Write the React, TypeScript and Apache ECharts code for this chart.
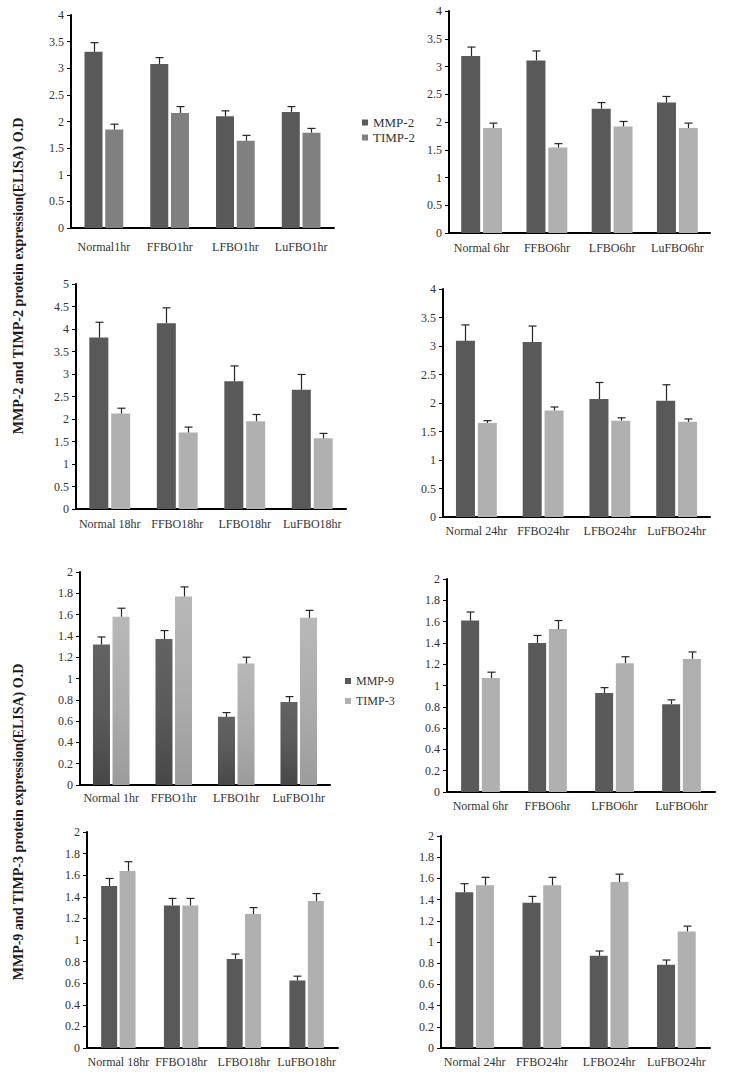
import React, { useEffect, useRef } from "react";
import * as echarts from "echarts";

// ---------- data ----------
const cats1hrA = ["Normal1hr", "FFBO1hr", "LFBO1hr", "LuFBO1hr"];
const cats6hr = ["Normal 6hr", "FFBO6hr", "LFBO6hr", "LuFBO6hr"];
const cats18hr = ["Normal 18hr", "FFBO18hr", "LFBO18hr", "LuFBO18hr"];
const cats24hr = ["Normal 24hr", "FFBO24hr", "LFBO24hr", "LuFBO24hr"];
const cats1hrB = ["Normal 1hr", "FFBO1hr", "LFBO1hr", "LuFBO1hr"];

// MMP-2 / TIMP-2
const mmp2_1hr = [3.31, 3.08, 2.1, 2.18];
const mmp2_1hrErr = [0.17, 0.12, 0.1, 0.1];
const timp2_1hr = [1.85, 2.16, 1.64, 1.79];
const timp2_1hrErr = [0.1, 0.12, 0.1, 0.08];

const mmp2_6hr = [3.19, 3.11, 2.24, 2.35];
const mmp2_6hrErr = [0.16, 0.17, 0.11, 0.11];
const timp2_6hr = [1.89, 1.54, 1.92, 1.89];
const timp2_6hrErr = [0.09, 0.07, 0.09, 0.09];

const mmp2_18hr = [3.81, 4.13, 2.84, 2.65];
const mmp2_18hrErr = [0.34, 0.34, 0.34, 0.34];
const timp2_18hr = [2.12, 1.7, 1.95, 1.57];
const timp2_18hrErr = [0.12, 0.12, 0.15, 0.11];

const mmp2_24hr = [3.09, 3.07, 2.07, 2.04];
const mmp2_24hrErr = [0.28, 0.28, 0.29, 0.28];
const timp2_24hr = [1.65, 1.87, 1.69, 1.67];
const timp2_24hrErr = [0.04, 0.06, 0.05, 0.05];

// MMP-9 / TIMP-3
const mmp9_1hr = [1.32, 1.37, 0.64, 0.78];
const mmp9_1hrErr = [0.07, 0.08, 0.04, 0.05];
const timp3_1hr = [1.58, 1.77, 1.14, 1.57];
const timp3_1hrErr = [0.08, 0.09, 0.06, 0.07];

const mmp9_6hr = [1.61, 1.4, 0.93, 0.825];
const mmp9_6hrErr = [0.08, 0.07, 0.05, 0.04];
const timp3_6hr = [1.07, 1.53, 1.21, 1.25];
const timp3_6hrErr = [0.055, 0.08, 0.06, 0.065];

const mmp9_18hr = [1.5, 1.32, 0.825, 0.625];
const mmp9_18hrErr = [0.07, 0.065, 0.045, 0.04];
const timp3_18hr = [1.64, 1.32, 1.24, 1.36];
const timp3_18hrErr = [0.085, 0.065, 0.06, 0.07];

const mmp9_24hr = [1.47, 1.37, 0.87, 0.785];
const mmp9_24hrErr = [0.08, 0.06, 0.045, 0.045];
const timp3_24hr = [1.535, 1.535, 1.565, 1.1];
const timp3_24hrErr = [0.075, 0.075, 0.075, 0.05];

const yTitleTop = "MMP-2 and TIMP-2 protein expression(ELISA) O.D";
const yTitleBottom = "MMP-9 and TIMP-3 protein expression(ELISA) O.D";

// ---------- layout / style ----------
const FONT = "'Liberation Serif', 'Times New Roman', serif";
const DARK = "#595959";

const panels = [
  { cats: cats1hrA, a: mmp2_1hr, ae: mmp2_1hrErr, b: timp2_1hr, be: timp2_1hrErr, names: ["MMP-2", "TIMP-2"],
    grid: { left: 71, top: 15, width: 263, height: 213 }, max: 4, interval: 0.5, barW: 18, lblMargin: 13, colorB: "#808080" },
  { cats: cats6hr, a: mmp2_6hr, ae: mmp2_6hrErr, b: timp2_6hr, be: timp2_6hrErr, names: ["MMP-2", "TIMP-2"],
    grid: { left: 449, top: 11, width: 261, height: 222 }, max: 4, interval: 0.5, barW: 19, lblMargin: 9, colorB: "#b0b0b0" },
  { cats: cats18hr, a: mmp2_18hr, ae: mmp2_18hrErr, b: timp2_18hr, be: timp2_18hrErr, names: ["MMP-2", "TIMP-2"],
    grid: { left: 76, top: 284, width: 270, height: 225 }, max: 5, interval: 0.5, barW: 19, lblMargin: 9, colorB: "#b0b0b0" },
  { cats: cats24hr, a: mmp2_24hr, ae: mmp2_24hrErr, b: timp2_24hr, be: timp2_24hrErr, names: ["MMP-2", "TIMP-2"],
    grid: { left: 443, top: 289, width: 267, height: 228 }, max: 4, interval: 0.5, barW: 19, lblMargin: 8, colorB: "#b0b0b0" },
  { cats: cats1hrB, a: mmp9_1hr, ae: mmp9_1hrErr, b: timp3_1hr, be: timp3_1hrErr, names: ["MMP-9", "TIMP-3"],
    grid: { left: 80, top: 572, width: 250, height: 213 }, max: 2, interval: 0.2, barW: 17, lblMargin: 7, colorB: "#b0b0b0", gradient: true },
  { cats: cats6hr, a: mmp9_6hr, ae: mmp9_6hrErr, b: timp3_6hr, be: timp3_6hrErr, names: ["MMP-9", "TIMP-3"],
    grid: { left: 447, top: 579, width: 268, height: 213 }, max: 2, interval: 0.2, barW: 18, lblMargin: 8, colorB: "#b0b0b0" },
  { cats: cats18hr, a: mmp9_18hr, ae: mmp9_18hrErr, b: timp3_18hr, be: timp3_18hrErr, names: ["MMP-9", "TIMP-3"],
    grid: { left: 87, top: 832, width: 251, height: 216 }, max: 2, interval: 0.2, barW: 16, lblMargin: 8, colorB: "#b0b0b0" },
  { cats: cats24hr, a: mmp9_24hr, ae: mmp9_24hrErr, b: timp3_24hr, be: timp3_24hrErr, names: ["MMP-9", "TIMP-3"],
    grid: { left: 441, top: 836, width: 269, height: 212 }, max: 2, interval: 0.2, barW: 18, lblMargin: 8, colorB: "#b0b0b0" },
];

const GAP = 0.15;

function errSeries(i: number, vals: number[], errs: number[], sign: number, barW: number) {
  const offset = (sign * barW * (1 + GAP)) / 2;
  return {
    type: "custom",
    name: "err",
    xAxisIndex: i,
    yAxisIndex: i,
    z: 5,
    silent: true,
    encode: { x: 0, y: 1 },
    data: vals.map((v, k) => [k, v, errs[k]]),
    renderItem: (params: any, api: any) => {
      const c = api.coord([api.value(0), api.value(1)]);
      const t = api.coord([api.value(0), api.value(1) + api.value(2)]);
      const x = Math.round(c[0] + offset) + 0.5;
      const st = { stroke: "#262626", lineWidth: 1.2 };
      return {
        type: "group",
        children: [
          { type: "line", shape: { x1: x, y1: c[1], x2: x, y2: t[1] }, style: st },
          { type: "line", shape: { x1: x - 4, y1: t[1], x2: x + 4, y2: t[1] }, style: st },
        ],
      };
    },
  };
}

function buildOption() {
  const grid: any[] = [];
  const xAxis: any[] = [];
  const yAxis: any[] = [];
  const series: any[] = [];
  panels.forEach((p, i) => {
    grid.push({ ...p.grid, containLabel: false });
    xAxis.push({
      type: "category",
      gridIndex: i,
      data: p.cats,
      axisLine: { lineStyle: { color: "#000", width: 2 } },
      axisTick: { show: false },
      axisLabel: { color: "#333", fontFamily: FONT, fontSize: 12, margin: p.lblMargin, interval: 0 },
    });
    yAxis.push({
      type: "value",
      gridIndex: i,
      min: 0,
      max: p.max,
      interval: p.interval,
      axisLine: { show: true, lineStyle: { color: "#000", width: 2 } },
      axisTick: { show: true, length: 4, lineStyle: { color: "#000" } },
      splitLine: { show: false },
      axisLabel: { color: "#333", fontFamily: FONT, fontSize: 12, margin: 7 },
    });
    const colorA = p.gradient
      ? new echarts.graphic.LinearGradient(0, 0, 0, 1, [
          { offset: 0, color: "#636363" },
          { offset: 0.5, color: "#5a5a5a" },
          { offset: 1, color: "#474747" },
        ])
      : DARK;
    const colorB = p.gradient
      ? new echarts.graphic.LinearGradient(0, 0, 0, 1, [
          { offset: 0, color: "#b8b8b8" },
          { offset: 0.5, color: "#adadad" },
          { offset: 1, color: "#9c9c9c" },
        ])
      : p.colorB;
    series.push({
      type: "bar",
      name: p.names[0],
      xAxisIndex: i,
      yAxisIndex: i,
      data: p.a,
      barWidth: p.barW,
      barGap: `${GAP * 100}%`,
      itemStyle: { color: colorA },
    });
    series.push({
      type: "bar",
      name: p.names[1],
      xAxisIndex: i,
      yAxisIndex: i,
      data: p.b,
      barWidth: p.barW,
      barGap: `${GAP * 100}%`,
      itemStyle: { color: colorB },
    });
    series.push(errSeries(i, p.a, p.ae, -1, p.barW));
    series.push(errSeries(i, p.b, p.be, 1, p.barW));
  });

  return {
    animation: false,
    backgroundColor: "#fff",
    grid,
    xAxis,
    yAxis,
    series,
    legend: [
      {
        orient: "vertical",
        left: 362,
        top: 116,
        padding: 0,
        itemWidth: 6,
        itemHeight: 6,
        itemGap: 2,
        selectedMode: false,
        icon: "rect",
        textStyle: { fontFamily: FONT, fontSize: 13, color: "#333" },
        data: [
          { name: "MMP-2", itemStyle: { color: DARK } },
          { name: "TIMP-2", itemStyle: { color: "#808080" } },
        ],
      },
      {
        orient: "vertical",
        left: 345,
        top: 675,
        padding: 0,
        itemWidth: 6,
        itemHeight: 6,
        itemGap: 8,
        selectedMode: false,
        icon: "rect",
        textStyle: { fontFamily: FONT, fontSize: 12, color: "#333" },
        data: [
          { name: "MMP-9", itemStyle: { color: DARK } },
          { name: "TIMP-3", itemStyle: { color: "#b0b0b0" } },
        ],
      },
    ],
    graphic: [
      {
        type: "text",
        x: 18,
        y: 276,
        rotation: Math.PI / 2,
        style: {
          text: yTitleTop,
          fill: "#1a1a1a",
          font: `bold 14px ${FONT}`,
          align: "center",
          verticalAlign: "middle",
        },
      },
      {
        type: "text",
        x: 18,
        y: 822,
        rotation: Math.PI / 2,
        style: {
          text: yTitleBottom,
          fill: "#1a1a1a",
          font: `bold 14px ${FONT}`,
          align: "center",
          verticalAlign: "middle",
        },
      },
    ],
  };
}

export default function App() {
  const ref = useRef<HTMLDivElement>(null);
  useEffect(() => {
    if (!ref.current) return;
    const chart = echarts.init(ref.current, undefined, { renderer: "svg" });
    chart.setOption(buildOption() as any);
    return () => chart.dispose();
  }, []);
  return (
    <div
      ref={ref}
      style={{ position: "absolute", left: 0, top: 0, width: 730, height: 1083, background: "#fff" }}
    />
  );
}
